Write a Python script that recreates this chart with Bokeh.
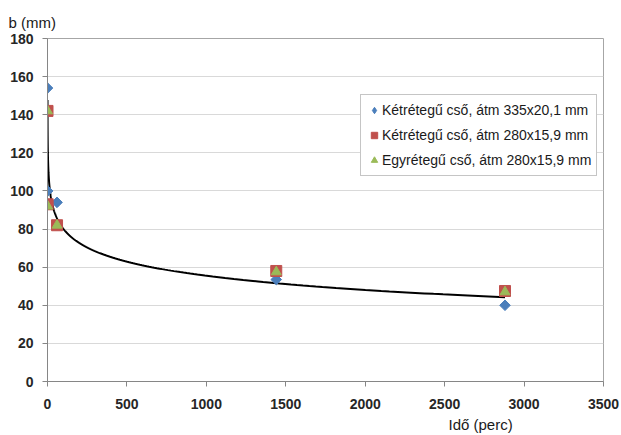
import numpy as np
from bokeh.plotting import figure
from bokeh.models import Legend, LegendItem, Title, FixedTicker, Range1d
from bokeh.embed import file_html
from bokeh.resources import INLINE

# Measurement times (minutes) and measured b values (mm) for the three pipes
time_min = [0, 1, 60, 1440, 2880]
b_ketreteg_335 = [154, 100, 94, 53.5, 40]
b_ketreteg_280 = [142, 93, 82, 58, 47.5]
b_egyreteg_280 = [142, 92, 82, 57.5, 47]

series_names = [
    "Kétrétegű cső, átm 335x20,1 mm",
    "Kétrétegű cső, átm 280x15,9 mm",
    "Egyrétegű cső, átm 280x15,9 mm",
]

# Logarithmic trend line  b = intercept + slope * ln(t)
trend_intercept = 129.4
trend_slope = -10.7
trend_t_start = 0.18
trend_t_end = 2880

x_ticks = [0, 500, 1000, 1500, 2000, 2500, 3000, 3500]
y_ticks = [0, 20, 40, 60, 80, 100, 120, 140, 160, 180]

FONT = "Liberation Sans"
GRID = "#d9d9d9"
AXIS = "#868686"
BLUE, RED, GREEN = "#4a7ebb", "#c0504d", "#9bbb59"

p = figure(
    width=621, height=435,
    x_range=Range1d(0, 3500), y_range=Range1d(0, 180),
    output_backend="svg", toolbar_location=None,
    min_border_left=47, min_border_right=18,
    min_border_top=38, min_border_bottom=54,
    background_fill_color="white", border_fill_color="white",
)
p.outline_line_color = "#a6a6a6"
p.outline_line_width = 1

p.xgrid.grid_line_color = None
p.ygrid.grid_line_color = GRID
p.ygrid.grid_line_width = 1

for ax, ticks in ((p.xaxis[0], x_ticks), (p.yaxis[0], y_ticks)):
    ax.ticker = FixedTicker(ticks=ticks)
    ax.axis_line_color = AXIS
    ax.major_tick_line_color = AXIS
    ax.major_tick_in = 0
    ax.major_tick_out = 5
    ax.minor_tick_line_color = None
    ax.major_label_text_font = FONT
    ax.major_label_text_font_style = "bold"
    ax.major_label_text_font_size = "14px"
    ax.major_label_text_color = "#262626"
p.yaxis.major_label_standoff = 9
p.xaxis.major_label_standoff = 12

# trend curve
t = np.geomspace(trend_t_start, trend_t_end, 400)
p.line(t, trend_intercept + trend_slope * np.log(t), line_color="black", line_width=2)

# measured points (diamonds drawn as squares turned by 45 degrees)
p.scatter(time_min, b_ketreteg_335, marker="square", angle=np.pi / 4, size=7.5,
          fill_color=BLUE, line_color=BLUE)
r2 = p.scatter(time_min, b_ketreteg_280, marker="square", size=11,
               fill_color=RED, line_color=RED)
r3 = p.scatter(time_min, b_egyreteg_280, marker="triangle", size=10,
               fill_color=GREEN, line_color=GREEN)
# legend key for the diamond series
r1 = p.scatter(x=[np.nan], y=[np.nan], marker="diamond", size=10,
               fill_color=BLUE, line_color=BLUE)

legend = Legend(
    items=[LegendItem(label=n, renderers=[r]) for n, r in zip(series_names, [r1, r2, r3])],
    location=(313, 205),
    label_text_font=FONT, label_text_font_size="14px", label_text_color="#1a1a1a",
    glyph_width=16, glyph_height=20, label_standoff=0,
    label_height=20, spacing=5, padding=5, margin=0,
    border_line_color="#8c8c8c", border_line_width=1,
    background_fill_color="white", background_fill_alpha=1,
)
p.add_layout(legend, "center")

# axis captions as side titles
p.add_layout(Title(text="b (mm)", align="left", offset=-39, standoff=16,
                   text_font=FONT, text_font_size="15px", text_font_style="normal",
                   text_color="#1a1a1a"), "above")
p.add_layout(Title(text="Idő (perc)", align="left", offset=401, standoff=5,
                   text_font=FONT, text_font_size="15px", text_font_style="normal",
                   text_color="#1a1a1a"), "below")

open("out.html", "w").write(file_html(p, INLINE))
